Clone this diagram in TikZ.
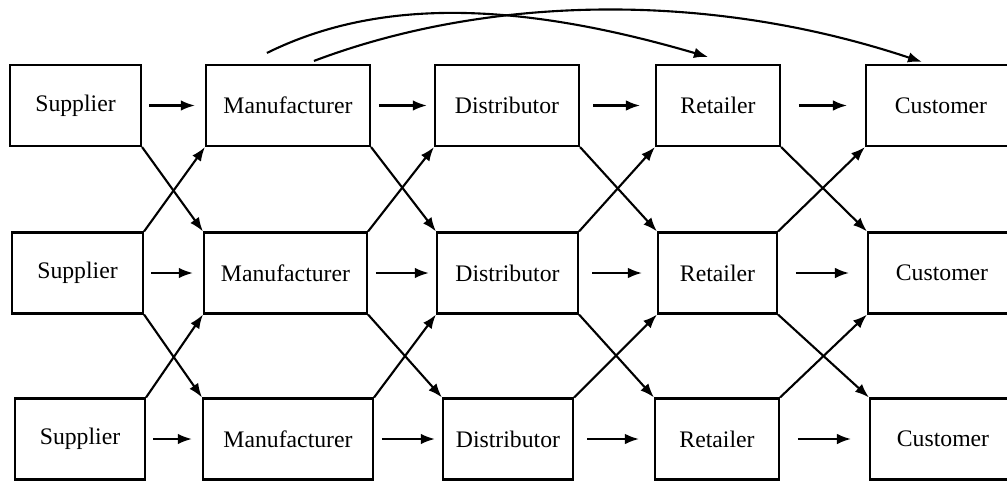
\documentclass[tikz,border=0pt]{standalone}
\usepackage{fontspec}
\setmainfont{Liberation Serif}
\usetikzlibrary{arrows.meta}
\newdimen\px \px=0.02cm

\begin{document}
\begin{tikzpicture}[x=0.02cm, y=-0.02cm, line width=1.2pt,
	box/.style={draw, inner sep=0pt, minimum height=81*\px, font=\fontsize{13.5}{16}\selectfont},
	flow/.style={-{Latex[length=8pt,width=6pt]}}]
	\useasboundingbox (0,0) rectangle (1007,483);
	% top row
	\node[box, minimum width=131*\px] (S1) at (75.5,105.5) {Supplier};
	\node[box, minimum width=164*\px] (M1) at (288,105.5) {Manufacturer};
	\node[box, minimum width=144*\px] (D1) at (507,105.5) {Distributor};
	\node[box, minimum width=124*\px] (R1) at (718,105.5) {Retailer};
	\node[box, minimum width=150*\px] (C1) at (941,105.5) {Customer};
	% middle row
	\node[box, minimum width=131*\px] (S2) at (77.5,273) {Supplier};
	\node[box, minimum width=163*\px] (M2) at (285.5,273) {Manufacturer};
	\node[box, minimum width=141*\px] (D2) at (507.5,273) {Distributor};
	\node[box, minimum width=119*\px] (R2) at (717.5,273) {Retailer};
	\node[box, minimum width=148*\px] (C2) at (942,273) {Customer};
	% bottom row
	\node[box, minimum width=130*\px] (S3) at (80,439) {Supplier};
	\node[box, minimum width=170*\px] (M3) at (288,439) {Manufacturer};
	\node[box, minimum width=130*\px] (D3) at (508,439) {Distributor};
	\node[box, minimum width=124*\px] (R3) at (717,439) {Retailer};
	\node[box, minimum width=146*\px] (C3) at (943,439) {Customer};

	% straight arrows along each row
	\foreach \a/\b/\s/\e in {S/M/4/5.7, M/D/4.5/4, D/R/7.4/8.5, R/C/10.2/10.2}
		\foreach \r in {1,2,3}
			\draw[flow, shorten <=\s pt, shorten >=\e pt] (\a\r.east) -- (\b\r.west);

	% crossing arrows between rows
	\foreach \a/\b in {S/M, M/D, D/R, R/C}
		\foreach \r/\n in {1/2, 2/3} {
			\draw[flow] (\a\r.south east) -- (\b\n.north west);
			\draw[flow] (\a\n.north east) -- (\b\r.south west);
		}

	% direct links from the manufacturer
	\draw[flow] ([shift={(62,-11)}]M1.north west) .. controls (380,-3) and (520,2) .. ([shift={(-10,-7)}]R1.north);
	\draw[flow] ([shift={(109,-3)}]M1.north west) .. controls (480,-2) and (700,-12) .. ([shift={(-19,-2)}]C1.north);
\end{tikzpicture}
\end{document}
